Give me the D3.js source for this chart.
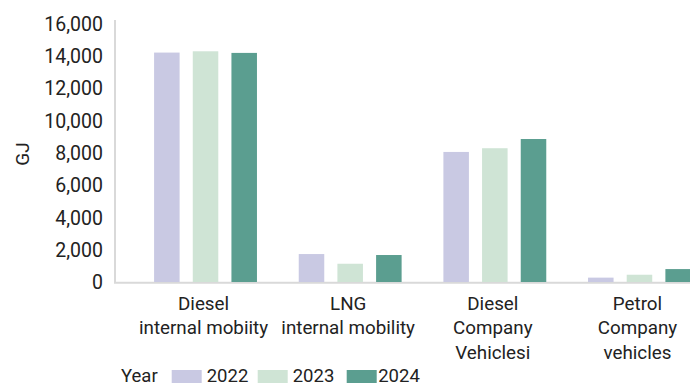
<!DOCTYPE html>
<html>
<head>
<meta charset="utf-8">
<script src="https://cdn.jsdelivr.net/npm/d3@7"></script>
<style>
  html, body { margin: 0; padding: 0; background: #fff; }
  svg { display: block; }
  text { font-family: Roboto, "Open Sans", sans-serif; fill: #222; }
</style>
</head>
<body>
<svg id="chart" width="690" height="387"></svg>
<script>
const categories = [
  ["Diesel", "internal mobiity"],
  ["LNG", "internal mobility"],
  ["Diesel", "Company", "Vehiclesi"],
  ["Petrol", "Company", "vehicles"]
];
const years = ["2022", "2023", "2024"];
const values2022 = [14200, 1730, 8050, 270];
const values2023 = [14280, 1130, 8280, 450];
const values2024 = [14180, 1670, 8850, 800];
const yTicks = [0, 2000, 4000, 6000, 8000, 10000, 12000, 14000, 16000];
const colors = ["#c9c9e3", "#cfe4d5", "#5b9e90"];
const yLabel = "GJ";
const legendTitle = "Year";

const series = [values2022, values2023, values2024];
const svg = d3.select("#chart");

const catIdx = categories.map((c, i) => i);
const x0 = d3.scaleBand().domain(catIdx).range([133.2, 711.8]).paddingInner(0).paddingOuter(0);
const x1 = d3.scaleBand().domain(years).range([0, x0.bandwidth()]).paddingInner(0.34).paddingOuter(0.54);
const y = d3.scaleLinear().domain([0, 16000]).range([282, 23.5]);

// axes lines
svg.append("line").attr("x1", 115).attr("x2", 115).attr("y1", 20).attr("y2", 283)
  .attr("stroke", "#d9d9d9").attr("stroke-width", 2);
svg.append("line").attr("x1", 114).attr("x2", 690).attr("y1", 282.7).attr("y2", 282.7)
  .attr("stroke", "#d9d9d9").attr("stroke-width", 2);

// y tick labels via axis
const yAxis = d3.axisLeft(y).tickValues(yTicks).tickFormat(d3.format(",")).tickSize(0).tickPadding(0);
const yg = svg.append("g").attr("transform", "translate(103,0)").call(yAxis);
yg.select(".domain").remove();
yg.selectAll("text").attr("font-size", 19.5).attr("fill", "#222")
  .style("font-family", "Roboto, sans-serif").attr("dy", "0.34em");

// y label
svg.append("text").attr("transform", "translate(29,154) rotate(-90)")
  .attr("text-anchor", "middle").attr("font-size", 19).text(yLabel);

// bars
const groups = svg.append("g").selectAll("g").data(catIdx).join("g")
  .attr("transform", d => `translate(${x0(d)},0)`);
groups.selectAll("rect").data(ci => years.map((yr, si) => ({ yr, si, v: series[si][ci] })))
  .join("rect")
  .attr("x", d => x1(d.yr))
  .attr("width", x1.bandwidth())
  .attr("y", d => y(d.v))
  .attr("height", d => y(0) - y(d.v))
  .attr("fill", d => colors[d.si]);

// category labels
const lab = svg.append("g").selectAll("text").data(catIdx).join("text")
  .attr("x", d => x0(d) + x0.bandwidth() / 2 - 2)
  .attr("y", 310)
  .attr("text-anchor", "middle")
  .attr("font-size", 18.8);
lab.selectAll("tspan").data(d => categories[d]).join("tspan")
  .attr("x", function() { return d3.select(this.parentNode).attr("x"); })
  .attr("dy", (d, i) => i === 0 ? 0 : 24.3)
  .text(d => d);

// legend
const lg = svg.append("g");
lg.append("text").attr("x", 121).attr("y", 382).attr("font-size", 18.5).text(legendTitle);
const legendX = [171.7, 257.7, 346.7];
years.forEach((yr, i) => {
  lg.append("rect").attr("x", legendX[i]).attr("y", 370).attr("width", 30).attr("height", 13)
    .attr("fill", colors[i]);
  lg.append("text").attr("x", legendX[i] + (i === 2 ? 31.5 : 35)).attr("y", 382)
    .attr("font-size", 18.5).text(yr);
});
</script>
</body>
</html>
